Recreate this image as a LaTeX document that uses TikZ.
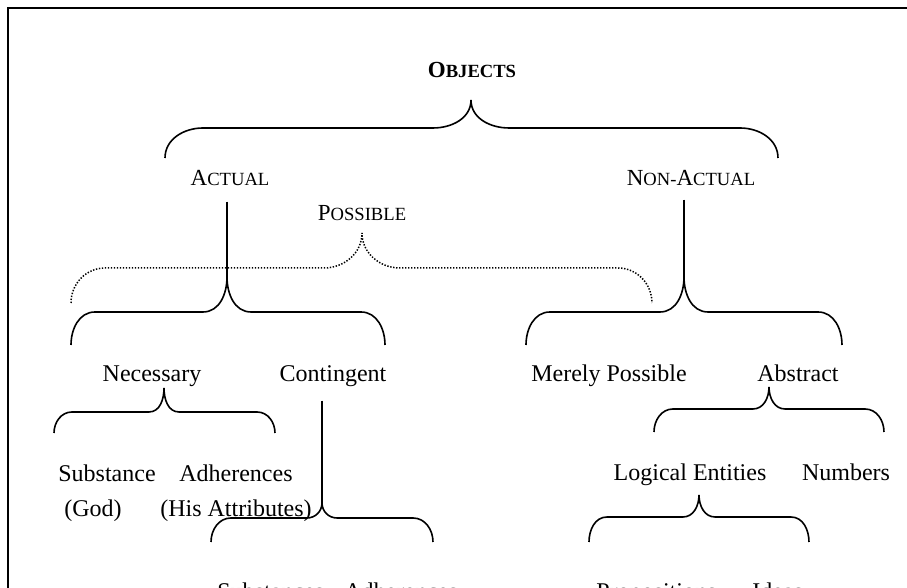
\documentclass[tikz,border=0pt]{standalone}
\usepackage{fontspec}
\setmainfont{Liberation Serif}
\usetikzlibrary{calc}
\tikzset{
  head/.style={font=\fontsize{11.5}{13}\selectfont, inner sep=0pt, anchor=base},
  lvl/.style={font=\fontsize{12}{14}\selectfont, inner sep=0pt, anchor=base},
  brace/.style={line width=0.8pt},
  dottedbrace/.style={line width=0.75pt, dash pattern=on 0.7pt off 0.8pt},
  stem/.style={line width=0.7pt},
  frame/.style={line width=1pt}
}
\newcommand{\lowcaps}[1]{{\fontsize{9.3}{10}\selectfont #1}}
\newcommand{\splitbrace}[7][]{%
  \draw[brace,#1] let \p1=(#2), \p2=(#3), \p3=(#4),
      \p4=($(#3)+(0,-#5)$), \p5=($(#2)+(#6,0)$), \p6=($(#4)+(-#6,0)$),
      \p7=($(#3)+(-#7,0)$), \p8=($(#3)+(#7,0)$) in
    (\p1) to[out=90,in=180] (\x5,\y4) -- (\x7,\y4) to[out=0,in=-90] (\p2)
    to[out=-90,in=180] (\x8,\y4) -- (\x6,\y4) to[out=0,in=90] (\p3);
}

\begin{document}
\begin{tikzpicture}[x=0.5pt, y=0.5pt]
\useasboundingbox (0,0) rectangle (907,588);
\clip (0,0) rectangle (907,588);
\draw[frame] (8,-20) rectangle (930,580);

\node[head] (objects) at (472,510) {\textbf{O\lowcaps{BJECTS}}};
\node[head] (actual) at (230,402) {A\lowcaps{CTUAL}};
\node[head] (nonactual) at (691,402) {N\lowcaps{ON-}A\lowcaps{CTUAL}};
\node[head] (possible) at (362,367) {P\lowcaps{OSSIBLE}};
\node[lvl] (necessary) at (152,206) {Necessary};
\node[lvl] (contingent) at (333,206) {Contingent};
\node[lvl] (merely) at (609,206) {Merely Possible};
\node[lvl] (abstract) at (798,206) {Abstract};
\node[lvl] (substance) at (107,106) {Substance};
\node[lvl] (adherences) at (236,106) {Adherences};
\node[lvl] (god) at (93,71) {(God)};
\node[lvl] (attributes) at (236,71) {(His Attributes)};
\node[lvl] (logical) at (690,107) {Logical Entities};
\node[lvl] (numbers) at (846,107) {Numbers};
\node[lvl, anchor=base west] (substances) at (217,-12) {Substances};
\node[lvl, anchor=base west] (cadherences) at (344,-12) {Adherences};
\node[lvl, anchor=base west] (propositions) at (596,-12) {Propositions};
\node[lvl, anchor=base west] (ideas) at (752,-12) {Ideas};

\coordinate (objL) at (165,430); \coordinate (objT) at (471,488); \coordinate (objR) at (778,430);
\coordinate (posL) at (71,285); \coordinate (posT) at (362,355); \coordinate (posR) at (652,285);
\coordinate (actL) at (71,243); \coordinate (actT) at (227,311); \coordinate (actR) at (385,243);
\coordinate (nonL) at (526,243); \coordinate (nonT) at (684,311); \coordinate (nonR) at (842,243);
\coordinate (necL) at (54,155); \coordinate (necT) at (164,200); \coordinate (necR) at (275,155);
\coordinate (conL) at (211,46); \coordinate (conT) at (322,85); \coordinate (conR) at (433,46);
\coordinate (absL) at (654,156); \coordinate (absT) at (769,201); \coordinate (absR) at (884,156);
\coordinate (logL) at (589,46); \coordinate (logT) at (699,93); \coordinate (logR) at (809,46);

\splitbrace{objL}{objT}{objR}{28}{38}{38}
\splitbrace[dottedbrace]{posL}{posT}{posR}{35}{34}{38}
\splitbrace{actL}{actT}{actR}{35}{24}{24}
\splitbrace{nonL}{nonT}{nonR}{35}{24}{24}
\splitbrace{necL}{necT}{necR}{24}{18}{15}
\splitbrace{conL}{conT}{conR}{15}{20}{15}
\splitbrace{absL}{absT}{absR}{22}{19}{16}
\splitbrace{logL}{logT}{logR}{22}{18}{16}

\draw[stem, shorten <=7.5pt] (actual.south -| actT) -- (actT);
\draw[stem, shorten <=6.5pt] (nonactual.south -| nonT) -- (nonT);
\draw[stem, shorten <=6.5pt] (contingent.south -| conT) -- (conT);
\end{tikzpicture}
\end{document}
